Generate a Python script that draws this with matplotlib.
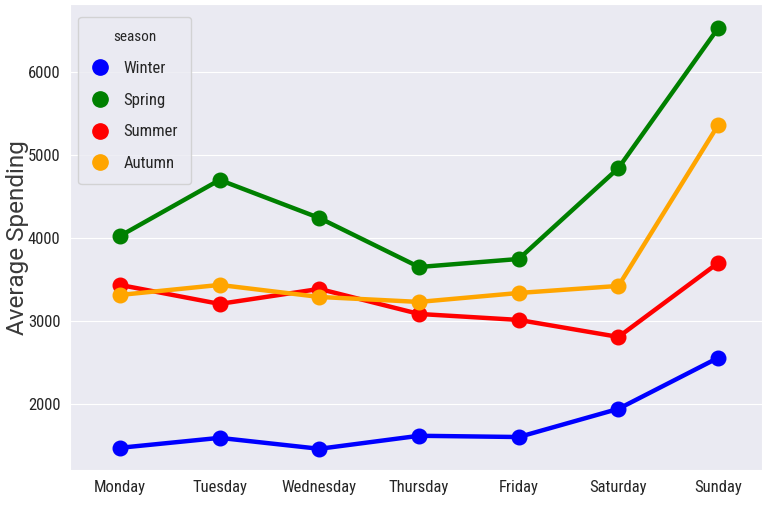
import numpy as np
import matplotlib
matplotlib.use('Agg')
import matplotlib.pyplot as plt
import seaborn as sns
from matplotlib.lines import Line2D

days = ['Monday', 'Tuesday', 'Wednesday', 'Thursday', 'Friday', 'Saturday', 'Sunday']
seasons = ['Winter', 'Spring', 'Summer', 'Autumn']
colors = ['blue', 'green', 'red', 'orange']

winter = [1470, 1590, 1458, 1615, 1600, 1940, 2555]
spring = [4024, 4700, 4241, 3650, 3747, 4843, 6530]
summer = [3434, 3205, 3386, 3084, 3012, 2807, 3699]
autumn = [3313, 3434, 3289, 3229, 3337, 3422, 5361]
values = [winter, spring, summer, autumn]

sns.set_style('darkgrid')
plt.rcParams['font.family'] = ['Roboto Condensed', 'Liberation Sans Narrow', 'DejaVu Sans']
plt.rcParams['font.stretch'] = 'condensed'

fig = plt.figure(figsize=(7.62, 5.15), dpi=100)
ax = fig.add_axes([0.092, 0.087, 0.908, 0.905])

x = np.arange(len(days))
for name, col, vals in zip(seasons, colors, values):
    ax.plot(x, vals, color=col, lw=3.2, marker='o', ms=10.5, label=name)

ax.set_xticks(x)
ax.set_xticklabels(days, fontsize=12)
ax.tick_params(axis='y', labelsize=12)
ax.set_yticks([2000, 3000, 4000, 5000, 6000])
ax.set_xlim(-0.5, 6.44)
ax.set_ylim(1200, 6820)
ax.xaxis.grid(False)
ax.set_ylabel('Average Spending', fontsize=17.5, family=['Roboto', 'DejaVu Sans'],
              fontstretch='normal', color='#3a3a3a')
ax.yaxis.set_label_coords(-0.06, 0.5)

handles = [Line2D([], [], color=c, marker='o', ls='', ms=11) for c in colors]
leg = ax.legend(handles, seasons, title='season', loc='upper left', fontsize=12,
                title_fontsize=11, labelspacing=1.0, handletextpad=0.9,
                handlelength=1.0, borderpad=0.8, bbox_to_anchor=(0.0, 0.99))

fig.savefig('out.png', dpi=100)
